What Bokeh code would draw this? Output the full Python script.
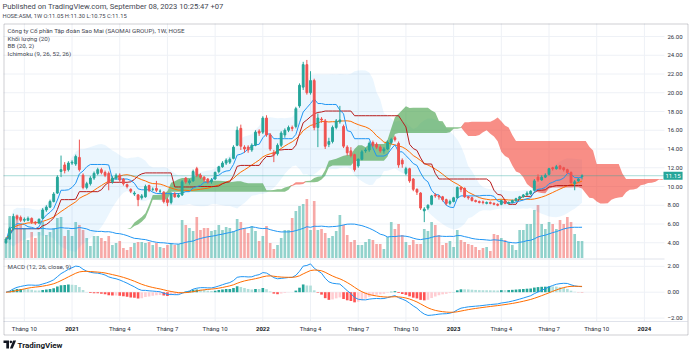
import numpy as np
import pandas as pd
from bokeh.plotting import figure
from bokeh.models import (Range1d, Label, BoxAnnotation, PolyAnnotation, ColumnDataSource)
from bokeh.core.properties import value
from bokeh.embed import file_html
from bokeh.resources import INLINE

# ---------------- data (weekly, first bar = week of 2020-08-31) ----------------
first_week = "2020-08-31"

opens = [4.0, 4.4, 5.5, 6.8, 6.7, 6.4, 6.4, 6.6, 6.2, 6.1,
         6.6, 7.5, 7.8, 8.4, 9.3, 11.6, 12.3, 11.8, 12.5, 12.4,
         13.1, 11.2, 9.9, 10.3, 10.9, 11.4, 11.8, 11.5, 11.4, 10.5,
         10.9, 11.2, 10.8, 10.2, 9.7, 9.2, 9.1, 8.8, 8.9, 10.1,
         9.7, 9.8, 9.5, 9.4, 8.6, 8.3, 9.2, 8.9, 9.1, 10.9,
         10.4, 10.6, 11.9, 11.2, 11.0, 10.8, 10.5, 10.8, 11.6, 12.1,
         12.5, 12.6, 13.0, 14.4, 16.2, 14.2, 14.2, 13.9, 14.4, 15.9,
         15.8, 17.3, 15.5, 13.6, 13.5, 14.4, 15.5, 16.0, 16.3, 16.4,
         18.6, 20.6, 23.0, 20.0, 21.3, 16.3, 17.2, 17.0, 14.5, 14.8,
         16.3, 16.9, 16.4, 14.2, 13.8, 13.4, 12.2, 12.9, 13.8, 13.9,
         14.7, 14.5, 14.2, 13.8, 14.0, 14.7, 15.2, 14.6, 12.8, 11.4,
         11.9, 10.8, 9.7, 9.3, 7.4, 7.7, 8.1, 9.1, 9.0, 8.9,
         8.6, 8.2, 8.4, 8.8, 9.9, 9.8, 8.9, 8.8, 8.5, 8.4,
         8.35, 8.2, 8.3, 8.2, 8.1, 8.1, 8.5, 8.2, 8.3, 8.5,
         8.7, 8.9, 9.1, 9.2, 9.6, 11.0, 10.7, 11.0, 11.3, 12.0,
         11.9, 12.2, 12.0, 11.8, 11.5, 10.3, 10.6, 11.05]
highs = [4.6, 5.7, 7.1, 7.0, 6.9, 6.7, 6.8, 6.7, 6.3, 6.6,
         7.7, 8.0, 8.6, 9.4, 11.2, 13.3, 12.6, 12.7, 12.8, 13.4,
         15.0, 11.4, 10.5, 11.1, 11.6, 12.0, 12.0, 11.7, 11.6, 11.1,
         11.4, 11.4, 10.9, 10.3, 9.8, 9.5, 9.2, 9.2, 10.2, 10.2,
         9.9, 10.6, 9.7, 9.5, 8.8, 9.4, 9.4, 9.3, 10.7, 11.0,
         10.8, 11.8, 12.1, 11.4, 11.1, 10.9, 10.9, 11.6, 12.2, 12.7,
         13.0, 13.1, 14.4, 16.4, 16.6, 14.4, 14.4, 14.6, 16.0, 16.1,
         17.5, 17.6, 15.7, 13.9, 14.6, 15.9, 16.2, 16.5, 16.5, 18.5,
         21.0, 23.3, 23.5, 22.3, 21.5, 17.8, 17.4, 17.2, 15.2, 16.5,
         17.2, 18.6, 16.6, 14.4, 14.2, 13.5, 13.0, 13.9, 14.1, 14.8,
         14.9, 14.7, 14.4, 14.2, 14.9, 15.2, 15.4, 14.8, 13.0, 12.1,
         12.0, 10.9, 9.8, 9.4, 7.8, 8.1, 9.1, 9.3, 9.1, 9.0,
         8.7, 8.6, 8.9, 10.0, 10.0, 9.9, 9.0, 8.9, 8.6, 8.5,
         8.5, 8.4, 8.4, 8.3, 8.2, 8.6, 8.6, 8.4, 8.6, 8.8,
         9.0, 9.2, 9.5, 9.6, 10.8, 11.3, 11.2, 11.4, 12.0, 12.1,
         12.3, 12.3, 12.1, 11.9, 11.6, 10.7, 10.9, 11.3]
lows = [3.9, 4.3, 5.3, 6.4, 6.2, 6.2, 6.3, 6.0, 5.9, 6.0,
        6.5, 7.3, 7.7, 8.3, 9.2, 11.0, 11.4, 11.6, 12.3, 12.2,
        11.6, 9.7, 9.7, 10.1, 10.7, 11.2, 11.3, 11.0, 9.6, 10.3,
        10.7, 10.5, 10.1, 9.8, 9.3, 9.0, 7.9, 8.6, 8.8, 9.4,
        9.5, 9.4, 9.3, 8.2, 7.9, 8.1, 8.8, 8.8, 9.0, 10.3,
        10.2, 10.5, 11.0, 10.8, 10.5, 10.3, 10.3, 10.7, 11.4, 12.0,
        12.3, 12.4, 12.9, 14.3, 13.9, 13.6, 13.6, 13.7, 14.3, 15.4,
        15.6, 15.3, 13.8, 12.6, 13.3, 14.2, 15.2, 15.8, 15.9, 16.2,
        18.4, 20.3, 19.8, 19.8, 16.0, 14.2, 16.8, 14.0, 14.2, 14.6,
        16.1, 16.7, 14.1, 13.3, 13.1, 11.6, 12.0, 12.8, 13.6, 13.7,
        14.2, 14.0, 13.6, 13.5, 13.9, 14.5, 14.8, 12.0, 12.0, 11.2,
        10.4, 9.5, 9.1, 7.5, 6.2, 7.5, 8.0, 8.8, 8.6, 8.4,
        8.0, 8.0, 8.3, 8.7, 9.4, 8.8, 8.6, 8.4, 8.3, 8.2,
        8.1, 8.1, 8.1, 8.0, 7.9, 8.0, 8.1, 8.1, 8.2, 8.4,
        8.6, 8.8, 9.0, 9.1, 9.5, 10.5, 10.6, 10.9, 11.2, 11.7,
        11.8, 11.8, 11.6, 11.3, 10.3, 9.6, 10.5, 10.75]
closes = [4.4, 5.5, 6.8, 6.6, 6.4, 6.5, 6.6, 6.2, 6.1, 6.5,
          7.5, 7.8, 8.4, 9.2, 11.0, 11.8, 11.7, 12.5, 12.6, 13.2,
          11.8, 9.9, 10.3, 10.9, 11.4, 11.8, 11.5, 11.2, 10.4, 10.9,
          11.2, 10.7, 10.3, 10.0, 9.5, 9.3, 8.6, 9.0, 10.0, 9.6,
          9.7, 9.6, 9.5, 8.4, 8.3, 9.2, 8.9, 9.1, 10.5, 10.5,
          10.6, 11.6, 11.2, 11.0, 10.7, 10.5, 10.7, 11.5, 12.1, 12.5,
          12.8, 12.9, 14.2, 16.0, 14.3, 14.0, 13.9, 14.4, 15.8, 15.7,
          17.3, 15.5, 14.0, 13.4, 14.4, 15.7, 16.0, 16.3, 16.2, 18.3,
          20.8, 23.0, 20.0, 21.3, 16.3, 17.3, 17.1, 14.3, 14.8, 16.3,
          17.0, 17.1, 14.3, 13.6, 13.3, 11.8, 12.9, 13.7, 13.9, 14.6,
          14.4, 14.2, 13.8, 14.0, 14.7, 15.0, 15.0, 12.3, 12.4, 11.9,
          10.6, 9.7, 9.4, 7.7, 7.6, 8.0, 9.0, 9.0, 8.9, 8.6,
          8.2, 8.4, 8.8, 9.9, 9.7, 8.9, 8.8, 8.5, 8.4, 8.3,
          8.3, 8.3, 8.2, 8.1, 8.0, 8.5, 8.2, 8.3, 8.5, 8.7,
          8.9, 9.1, 9.3, 9.5, 10.6, 10.7, 11.0, 11.2, 11.9, 11.9,
          12.1, 11.9, 11.8, 11.5, 10.4, 10.5, 10.8, 11.15]
# weekly volume, millions of shares
volumes = [1.7, 4.2, 3.5, 4.3, 3.4, 3.0, 1.8, 2.6, 2.0, 2.6,
           3.6, 2.3, 2.6, 3.0, 4.0, 4.1, 2.2, 2.8, 2.2, 3.6,
           3.3, 2.8, 2.0, 1.2, 2.2, 2.2, 2.0, 1.7, 2.2, 1.3,
           1.5, 1.7, 1.0, 0.8, 1.1, 1.5, 1.6, 1.6, 1.5, 1.6,
           1.3, 1.5, 1.1, 1.0, 1.3, 1.5, 1.3, 1.4, 3.8, 3.3,
           3.0, 2.7, 4.1, 2.8, 3.0, 3.0, 2.7, 2.8, 3.3, 2.8,
           3.1, 3.0, 2.7, 3.9, 3.6, 3.0, 2.5, 3.2, 2.7, 1.7,
           2.2, 3.2, 1.5, 0.9, 1.3, 2.0, 2.8, 2.8, 4.0, 4.7,
           5.2, 5.4, 5.9, 2.8, 5.7, 2.8, 2.9, 2.5, 2.0, 2.2,
           2.7, 4.3, 3.3, 2.3, 1.6, 1.8, 1.3, 1.3, 1.6, 1.9,
           1.8, 1.4, 1.4, 0.9, 2.1, 3.6, 2.9, 3.4, 2.3, 1.6,
           1.3, 1.8, 1.4, 1.4, 2.9, 2.7, 3.6, 3.3, 2.3, 1.3,
           1.5, 1.7, 1.1, 2.8, 1.8, 1.6, 1.4, 1.3, 1.1, 0.8,
           1.0, 1.1, 0.7, 2.4, 2.3, 2.0, 1.8, 1.6, 1.3, 0.8,
           2.8, 2.8, 3.4, 3.4, 4.8, 5.3, 3.4, 2.9, 3.6, 3.4,
           2.9, 3.8, 3.4, 4.1, 3.6, 2.4, 1.7, 1.7]

tick_years = [2020, 2021, 2021, 2021, 2021, 2022, 2022, 2022, 2022, 2023, 2023, 2023, 2023, 2024]
tick_months = [10, 1, 4, 7, 10, 1, 4, 7, 10, 1, 4, 7, 10, 1]
tick_labels = ["Tháng 10", "2021", "Tháng 4", "Tháng 7", "Tháng 10", "2022", "Tháng 4",
               "Tháng 7", "Tháng 10", "2023", "Tháng 4", "Tháng 7", "Tháng 10", "2024"]
price_ticks = [4, 6, 8, 10, 12, 14, 16, 18, 20, 22, 24, 26]
macd_ticks = [2, 0, -2]
last_price = 11.15

# ---------------- indicators ----------------
df = pd.DataFrame({"o": opens, "h": highs, "l": lows, "c": closes, "v": volumes})
n = len(df)
x = np.arange(n)
up = (df.c >= df.o).values
UP, DOWN = "#26a69a", "#ef5350"
candle_col = np.where(up, UP, DOWN)

basis = df.c.rolling(20, min_periods=1).mean()
dev = df.c.rolling(20, min_periods=1).std(ddof=0).fillna(0)
bb_up = basis + 2 * dev
bb_lo = basis - 2 * dev


def mid(k):
    return (df.h.rolling(k, min_periods=1).max() + df.l.rolling(k, min_periods=1).min()) / 2


tenkan = mid(9)
kijun = mid(26)
span_a = ((tenkan + kijun) / 2).values
span_b = mid(52).values
lead_x = x + 25

ema12 = df.c.ewm(span=12, adjust=False).mean()
ema26 = df.c.ewm(span=26, adjust=False).mean()
macd = ema12 - ema26
signal = macd.ewm(span=9, adjust=False).mean()
hist = (macd - signal).values
prev = np.concatenate([[0.0], hist[:-1]])
hist_col = np.where(hist >= 0, np.where(hist > prev, "#26a69a", "#b2dfdb"),
                    np.where(hist > prev, "#ffcdd2", "#ff5252"))
vol_ma = df.v.rolling(20, min_periods=1).mean()

# ---------------- geometry: one frame = whole canvas ----------------
W, H = 690, 352
X0, DX = 5.5, 3.669          # canvas x of bar 0, px per week
Y10, DY = 186.0, 9.375       # canvas y of price 10, px per price unit
PLOT_L, PLOT_R, PLOT_T, MAIN_B, PLOT_B = 3, 664, 23, 258.5, 321


def xd(cx):
    return (cx - X0) / DX


def yd(cy):
    return 10 + (Y10 - cy) / DY


P_LO, P_HI = yd(H), yd(0)
M_ZERO, M_SCALE = yd(291.7), 12.94 / DY     # MACD pane
V_BASE, V_SCALE = yd(257.5), 10.0 / DY      # volume overlay
PANE_BOTTOM = yd(MAIN_B)

week_dates = pd.date_range(first_week, periods=200, freq="7D")
tick_idx = [int(next(j for j, d in enumerate(week_dates) if d.year == yy and d.month == mm))
            for yy, mm in zip(tick_years, tick_months)]

FONT = "Roboto"
TXT = "#2a2e39"
LEG = "#434651"

p = figure(width=W, height=H, x_range=Range1d(xd(0), xd(W)), y_range=Range1d(P_LO, P_HI),
           output_backend="svg", toolbar_location=None, title=None,
           x_axis_location=None, y_axis_location=None,
           min_border_left=0, min_border_right=0, min_border_top=0, min_border_bottom=0,
           background_fill_color="white", border_fill_color="white")
p.outline_line_color = None
p.xgrid.visible = False
p.ygrid.visible = False
p.extra_y_ranges = {
    "macd": Range1d((P_LO - M_ZERO) / M_SCALE, (P_HI - M_ZERO) / M_SCALE),
    "vol": Range1d((P_LO - V_BASE) / V_SCALE, (P_HI - V_BASE) / V_SCALE),
}

GRID = "#eef1f6"
# vertical grid at time ticks
p.segment(x0=tick_idx, y0=yd(PLOT_T), x1=tick_idx, y1=yd(PLOT_B), line_color=GRID, line_width=1)
# horizontal grid (price + macd)
p.segment(x0=xd(PLOT_L), y0=price_ticks, x1=xd(PLOT_R), y1=price_ticks, line_color=GRID, line_width=1)
p.segment(x0=xd(PLOT_L), y0=macd_ticks, x1=xd(PLOT_R), y1=macd_ticks, line_color=GRID,
          line_width=1, y_range_name="macd")

# volume
vol_col = np.where(up, "#26a69a", "#ef5350")
p.vbar(x=x, top=df.v.values, bottom=0, width=0.72, fill_color=vol_col, fill_alpha=0.5,
       line_color=None, y_range_name="vol")
p.line(x, vol_ma.values, line_color="#2196f3", line_width=1, y_range_name="vol")

# Bollinger band fill
p.varea(x=x, y1=np.maximum(bb_lo.values, PANE_BOTTOM), y2=bb_up.values,
        fill_color="#2196f3", fill_alpha=0.09)

# Ichimoku cloud (cut at the price scale)
keep = lead_x <= xd(PLOT_R)
lx, sa, sb = lead_x[keep], span_a[keep], span_b[keep]
p.varea(x=lx, y1=sb, y2=np.where(sa >= sb, sa, sb), fill_color="#43a047", fill_alpha=0.62)
p.varea(x=lx, y1=sa, y2=np.where(sb > sa, sb, sa), fill_color="#f44336", fill_alpha=0.6)

# lines
p.line(x, basis.values, line_color="#ff6d00", line_width=1)
p.line(x, kijun.values, line_color="#b71c1c", line_width=1)
p.line(x, tenkan.values, line_color="#2196f3", line_width=1)

# pane separator, time-scale border, last price line
p.segment(x0=xd(PLOT_L), y0=PANE_BOTTOM, x1=xd(PLOT_R), y1=PANE_BOTTOM, line_color="#e0e3eb", line_width=1)
p.segment(x0=xd(PLOT_L), y0=yd(PLOT_B), x1=xd(687), y1=yd(PLOT_B), line_color="#e0e3eb", line_width=1)
p.segment(x0=xd(PLOT_L), y0=last_price, x1=xd(PLOT_R), y1=last_price, line_color="#26a69a",
          line_alpha=0.4, line_width=1)

# MACD
p.vbar(x=x, top=hist, bottom=0, width=0.72, fill_color=hist_col, line_color=None, y_range_name="macd")
p.line(x, macd.values, line_color="#2196f3", line_width=1, y_range_name="macd")
p.line(x, signal.values, line_color="#ff6d00", line_width=1, y_range_name="macd")

# candles
p.segment(x0=x, y0=df.l.values, x1=x, y1=df.h.values, line_color=candle_col, line_width=1)
p.vbar(x=x, top=np.maximum(df.o, df.c).values, bottom=np.minimum(df.o, df.c).values, width=0.5,
       fill_color=candle_col, line_color=candle_col, line_width=1)

# ---------------- scale labels ----------------
SCALE_X = xd(667)
p.text(x=SCALE_X, y=price_ticks, text=["%.2f" % v for v in price_ticks], text_font=value(FONT),
       text_font_size="6px", text_color=TXT, text_align="left", text_baseline="middle")
p.text(x=SCALE_X, y=macd_ticks, text=[("%.2f" % v).replace("-", "\u2212") for v in macd_ticks],
       text_font=value(FONT), text_font_size="6px", text_color=TXT, text_align="left",
       text_baseline="middle", y_range_name="macd")
month_src = ColumnDataSource(dict(x=[j for j, t in zip(tick_idx, tick_labels) if not t.isdigit()],
                                  t=[t for t in tick_labels if not t.isdigit()]))
year_src = ColumnDataSource(dict(x=[j for j, t in zip(tick_idx, tick_labels) if t.isdigit()],
                                 t=[t for t in tick_labels if t.isdigit()]))
p.text(x="x", y=yd(328), text="t", source=month_src, text_font=value(FONT), text_font_size="6px",
       text_color=TXT, text_align="center", text_baseline="middle")
p.text(x="x", y=yd(328), text="t", source=year_src, text_font=value(FONT), text_font_size="6px",
       text_font_style="bold", text_color="#131722", text_align="center", text_baseline="middle")

# last price tag
p.add_layout(Label(x=663, y=last_price, x_units="screen", y_units="data", text="%.2f" % last_price,
                   text_font=FONT, text_font_size="6px", text_color="white",
                   text_baseline="middle", text_align="left",
                   background_fill_color="#26a69a", padding=2))


# ---------------- texts (screen coords, canvas y measured from top) ----------------
def lab(text, cx, cy, size, bold=False, color=LEG):
    p.add_layout(Label(x=cx, y=H - cy, x_units="screen", y_units="screen", text=text,
                       text_font=FONT, text_font_size=size, text_color=color,
                       text_font_style="bold" if bold else "normal",
                       text_baseline="middle", text_align="left"))


lab("Published on TradingView.com, September 08, 2023 10:25:47 +07", 2, 6, "7.6px")
lab("HOSE:ASM, 1W O:11.05 H:11.30 L:10.75 C:11.15", 2, 15.5, "5.8px")
lab("Công ty Cổ phần Tập đoàn Sao Mai (SAOMAI GROUP), 1W, HOSE", 7, 30.5, "6.2px")
lab("Khối lượng (20)", 7, 38, "6.2px")
lab("BB (20, 2)", 7, 45.5, "6.2px")
lab("Ichimoku (9, 26, 52, 26)", 7, 53, "6.2px")
lab("MACD (12, 26, close, 9)", 7, 266, "6.2px")
lab("TradingView", 17, 344.5, "8px", bold=True, color="#131722")

# outer box around the chart area and its scales
p.add_layout(BoxAnnotation(left=3.5, right=687.5, bottom=H - 334.5, top=H - 23.5,
                           left_units="screen", right_units="screen", bottom_units="screen",
                           top_units="screen", fill_alpha=0, line_color="#5d606b", line_width=1))


# TradingView logo mark
def poly(cxs, cys):
    p.add_layout(PolyAnnotation(xs=list(cxs), ys=[H - v for v in cys], xs_units="screen",
                                ys_units="screen", fill_color="#131722", fill_alpha=1, line_color=None))


poly([3, 8.5, 8.5, 5.8, 5.8, 3], [340, 340, 348, 348, 342.6, 342.6])
ang = np.linspace(0, 2 * np.pi, 12)
poly(10.4 + 1.3 * np.cos(ang), 341.4 + 1.3 * np.sin(ang))
poly([12.6, 15.6, 12.2, 9.4], [340, 340, 348, 348])

open("out.html", "w").write(file_html(p, INLINE))
